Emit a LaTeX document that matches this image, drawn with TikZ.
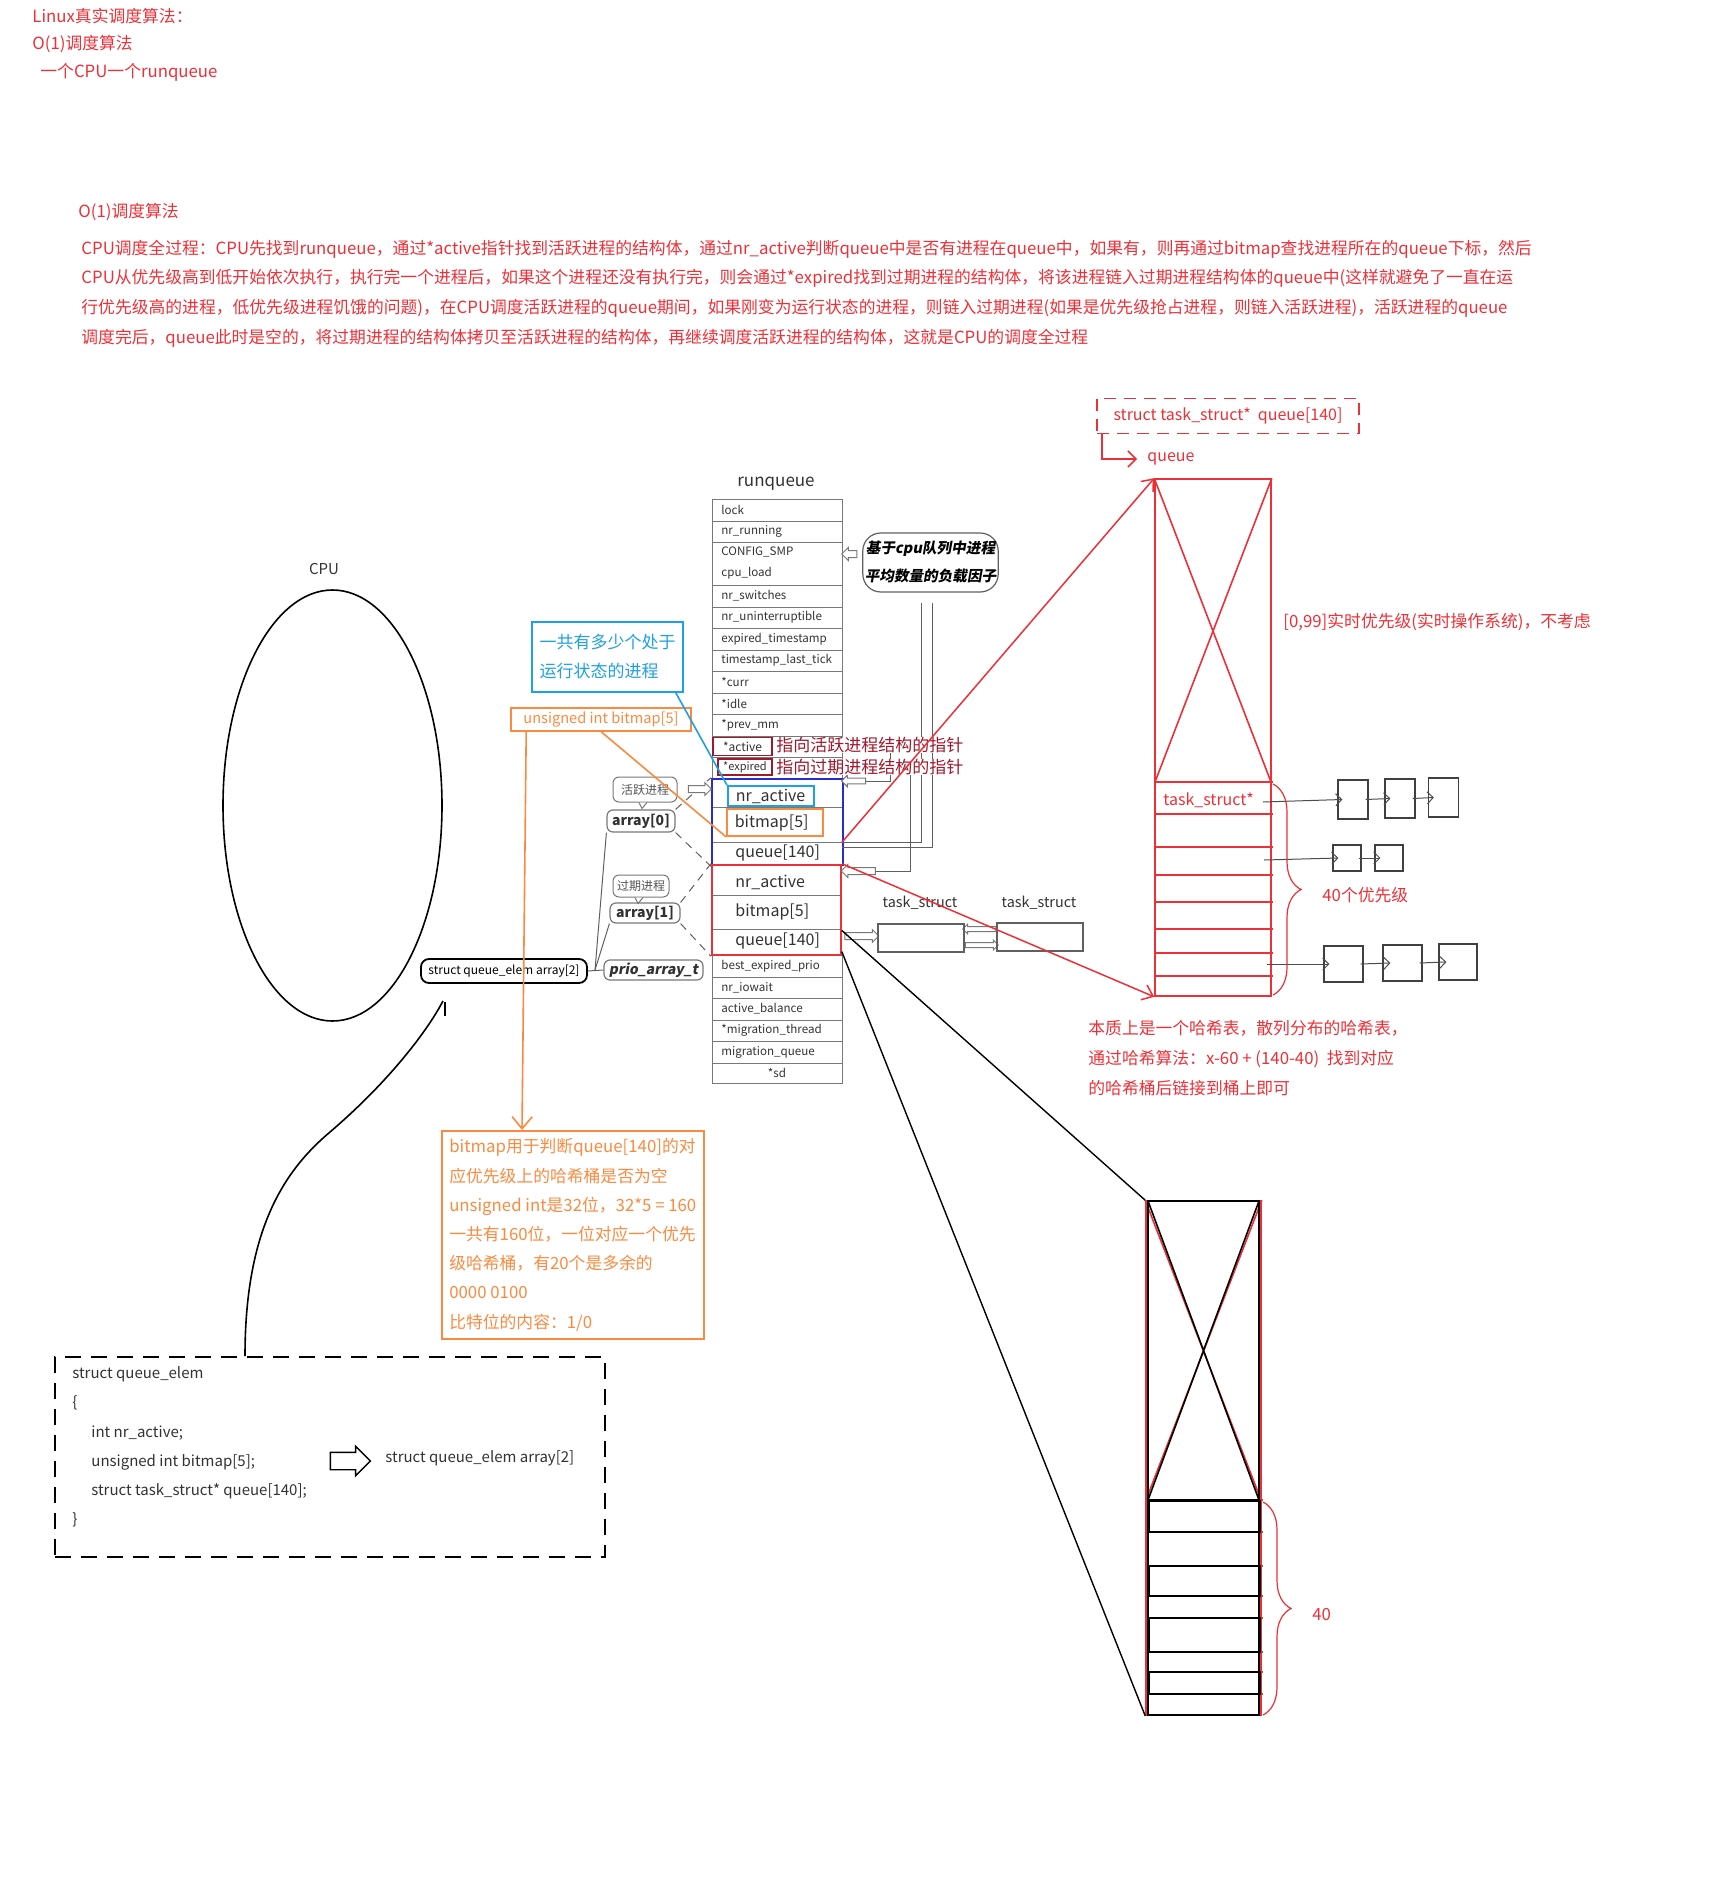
\documentclass[tikz,border=0pt]{standalone}
\usepackage{fontspec}
\setmainfont{Noto Sans CJK SC}
\newfontfamily\slantfont[FakeSlant=0.18]{Noto Sans CJK SC}
\usetikzlibrary{shapes.geometric, shapes.arrows, arrows.meta, positioning, calc, decorations.pathreplacing}

\definecolor{mred}{RGB}{236,48,56}
\definecolor{dred}{RGB}{160,24,44}
\definecolor{mblue}{RGB}{40,44,200}
\definecolor{mcyan}{RGB}{30,160,228}
\definecolor{morange}{RGB}{250,138,64}
\definecolor{tgray}{RGB}{120,120,120}
\definecolor{ttext}{RGB}{50,50,50}

\tikzset{
  rtext/.style={text=mred, font=\fontsize{8.4}{10}\selectfont, anchor=west, inner sep=0pt},
  fld/.style={text=ttext, font=\fontsize{5.8}{10.5}\selectfont, anchor=west, inner sep=0pt, align=left},
  cell/.style={draw=tgray, line width=0.5pt},
  bigfld/.style={text=ttext, font=\fontsize{8}{9}\selectfont, anchor=west, inner xsep=0pt, inner ysep=1pt, text width=53pt, align=left},
  hollow/.style={single arrow, draw=tgray, fill=white, line width=0.5pt, single arrow head indent=0pt, inner sep=1.5pt, single arrow head extend=1.5pt},
  conn/.style={draw=tgray!80!black, line width=0.5pt},
  tag/.style={draw=tgray, rounded corners=3pt, fill=white, line width=0.5pt, inner sep=1pt, font=\fontsize{6}{7}\selectfont, text=tgray!70!black},
  arrtag/.style={draw=tgray, rounded corners=3pt, line width=0.6pt, inner sep=1pt, font=\bfseries\fontsize{7}{8}\selectfont, text=ttext},
  rarr/.style={draw=mred, line width=0.75pt, -{Straight Barb[length=5pt,width=8pt]}},
  lbox/.style={draw=black!75, line width=0.6pt, inner sep=0pt},
  lnk/.style={draw=black!70, line width=0.5pt, -{Straight Barb[length=3pt,width=6pt]}},
  rbrace/.style={draw=mred, line width=0.6pt, decorate, decoration={brace, amplitude=14pt}},
  code/.style={font=\fontsize{7.5}{9}\selectfont, anchor=west, inner sep=0pt, text=ttext}
}

\begin{document}
\begin{tikzpicture}[x=0.5pt, y=-0.5pt]
\useasboundingbox (0,0) rectangle (1732,1877);

% titles and paragraph
\node[rtext] (t1) at (32,16) {Linux真实调度算法：};
\node[rtext] (t2) at (32,44) {O(1)调度算法};
\node[rtext] (t3) at (40,72) {一个CPU一个runqueue};
\node[rtext] (sec) at (78,212) {O(1)调度算法};
\node[rtext] (p1) at (81,249) {CPU调度全过程：CPU先找到runqueue，通过*active指针找到活跃进程的结构体，通过nr\_active判断queue中是否有进程在queue中，如果有，则再通过bitmap查找进程所在的queue下标，然后};
\node[rtext] (p2) at (81,278) {CPU从优先级高到低开始依次执行，执行完一个进程后，如果这个进程还没有执行完，则会通过*expired找到过期进程的结构体，将该进程链入过期进程结构体的queue中(这样就避免了一直在运};
\node[rtext] (p3) at (81,308) {行优先级高的进程，低优先级进程饥饿的问题)，在CPU调度活跃进程的queue期间，如果刚变为运行状态的进程，则链入过期进程(如果是优先级抢占进程，则链入活跃进程)，活跃进程的queue};
\node[rtext] (p4) at (81,338) {调度完后，queue此时是空的，将过期进程的结构体拷贝至活跃进程的结构体，再继续调度活跃进程的结构体，这就是CPU的调度全过程};

% cpu
\node[ellipse, draw, line width=0.8pt, minimum width=109.5pt, minimum height=215.5pt, inner sep=0pt] (cpu) at (332.5,805.5) {};
\node[font=\fontsize{7.5}{9}\selectfont, text=ttext] (cpulbl) at (324,569) {CPU};

% runqueue table
\node[font=\fontsize{8.5}{10}\selectfont, text=ttext] (rqlbl) at (776,484) {runqueue};
\foreach \t/\b/\lbl [count=\i] in {499/521/lock, 521/542/nr\_running, 542/585/{CONFIG\_SMP\\cpu\_load}, 585/607/nr\_switches, 607/628/nr\_uninterruptible, 628/650/expired\_timestamp, 650/671/timestamp\_last\_tick, 671/693/*curr, 693/714/*idle, 714/736/*prev\_mm, 736/757/{}, 757/779/{}, 955/977/best\_expired\_prio, 977/998/nr\_iowait, 998/1020/active\_balance, 1020/1041/*migration\_thread, 1041/1063/migration\_queue}
{
  \draw[cell] (712,\t) rectangle (842,\b);
  \node[fld] (rq\i) at (721,{(\t+\b)/2}) {\lbl};
}
\draw[cell] (712,1063) rectangle (842,1083);
\node[fld, anchor=center] (rqsd) at (777,1073) {*sd};

\node[draw=dred, line width=0.7pt, minimum width=29.5pt, minimum height=9pt, inner sep=0pt, font=\fontsize{6}{7}\selectfont, text=ttext] (act) at (742.5,746.5) {*active};
\node[draw=dred, line width=0.7pt, minimum width=27pt, minimum height=8pt, inner sep=0pt, font=\fontsize{5.5}{6}\selectfont, text=ttext] (exp) at (745,767) {*expired};

% active / expired arrays
\draw[cell] (713,807) -- (842,807);
\draw[cell] (713,842) -- (842,842);
\node[draw=mblue, line width=1.2pt, minimum width=65.5pt, minimum height=43pt, inner sep=0pt] (actbox) at (777.5,822) {};
\node[draw=mcyan, line width=0.8pt, anchor=west, text width=35pt, inner xsep=4pt, inner ysep=0pt, minimum height=10pt, font=\fontsize{8}{9}\selectfont, text=ttext] (an) at (727,796) {nr\_active};
\node[draw=morange, line width=0.8pt, anchor=west, text width=40pt, inner xsep=4pt, inner ysep=0pt, minimum height=13.5pt, font=\fontsize{8}{9}\selectfont, text=ttext] (ab) at (726,822.5) {bitmap[5]};
\node[bigfld] (aq) at (735,853) {queue[140]};

\draw[cell] (713,895) -- (841,895);
\draw[cell] (713,929) -- (841,929);
\node[draw=mred, line width=1.2pt, minimum width=64.5pt, minimum height=45pt, inner sep=0pt] (expbox) at (776.5,910) {};
\node[bigfld] (en) at (735,882) {nr\_active};
\node[bigfld] (eb) at (735,912) {bitmap[5]};
\node[bigfld] (eq) at (735,941) {queue[140]};

% left side tags
\node[tag, minimum width=32pt, minimum height=12.5pt] (b1) at (645,789.5) {活跃进程};
\draw[draw=tgray, fill=white, line width=0.5pt] ([xshift=-3pt]b1.south) -- ++(1.5pt,-3pt) -- ([xshift=1pt]b1.south);
\node[tag, minimum width=28pt, minimum height=11pt] (b2) at (641,886) {过期进程};
\draw[draw=tgray, fill=white, line width=0.5pt] ([xshift=-3pt]b2.south) -- ++(1.5pt,-3pt) -- ([xshift=1pt]b2.south);
\node[arrtag, minimum width=34pt, minimum height=11pt] (a0) at (641,821) {array[0]};
\node[arrtag, minimum width=35pt, minimum height=10pt] (a1) at (645,913) {array[1]};
\node[arrtag, minimum width=49.5pt, minimum height=10pt, font=\slantfont\bfseries\fontsize{7}{8}\selectfont] (pat) at (653.5,970) {prio\_array\_t};
\node[draw=black, line width=0.9pt, rounded corners=4pt, minimum width=83pt, minimum height=12pt, inner sep=1pt, font=\fontsize{6}{7}\selectfont] (sqa) at (504,971) {struct queue\_elem array[2]};

\coordinate (jn) at (595,970);
\draw[conn] (sqa.east) -- (pat.west);
\draw[conn] (jn) -- (a0.south west);
\draw[conn] (jn) -- (a1.south west);
\draw[conn, dash pattern=on 4pt off 3pt] (a0.north east) -- (actbox.north west);
\draw[conn, dash pattern=on 4pt off 3pt] (a0.south east) -- (actbox.south west);
\draw[conn, dash pattern=on 4pt off 3pt] (a1.north east) -- (expbox.north west);
\draw[conn, dash pattern=on 4pt off 3pt] (a1.south east) -- (expbox.south west);

% callouts
\node[draw=mcyan, line width=0.8pt, minimum width=75.5pt, minimum height=35pt, align=left, text=mcyan, font=\fontsize{8.5}{14.5}\selectfont, inner sep=2pt] (bcall) at (607.5,657) {一共有多少个处于\\运行状态的进程};
\node[draw=morange, line width=0.8pt, minimum width=90pt, minimum height=11.5pt, inner sep=0.5pt, text=morange, font=\fontsize{7.3}{8}\selectfont] (bmlbl) at (601,719.5) {unsigned int bitmap[5]};
\node[draw=morange, line width=0.8pt, anchor=north west, minimum width=131pt, minimum height=104pt, align=left, inner sep=1pt, text=morange, font=\fontsize{8.4}{14.6}\selectfont] (bexp) at (441,1130) {bitmap用于判断queue[140]的对\\应优先级上的哈希桶是否为空\\unsigned int是32位，32*5 = 160\\一共有160位，一位对应一个优先\\级哈希桶，有20个是多余的\\0000 0100\\比特位的内容：1/0};
\draw[mcyan, line width=0.8pt] ([xshift=-4pt]bcall.south east) -- (an.north west);
\draw[morange, line width=0.8pt] ([xshift=45.5pt]bmlbl.south west) -- (ab.south west);
\draw[morange, line width=0.8pt, -{Straight Barb[length=6pt,width=10pt]}] ([xshift=8pt]bmlbl.south west) -- ([xshift=40.5pt]bexp.north west);

\node[draw=tgray!80!black, rounded corners=9pt, line width=0.6pt, minimum width=67.5pt, minimum height=29.5pt, align=center, inner sep=1pt, font=\slantfont\bfseries\fontsize{7.3}{14}\selectfont] (cl) at (930.5,562.5) {基于cpu队列中进程\\平均数量的负载因子};

% hollow arrows
\node[hollow, minimum height=11.5pt] (h1) at (698,789) {};
\node[hollow, minimum height=7.5pt, shape border rotate=180] (h2) at (851,554) {};
\node[hollow, minimum height=12pt, shape border rotate=180, inner sep=1.2pt] (h3) at (855,781) {};
\node[hollow, minimum height=17pt, shape border rotate=180] (h4) at (860,871) {};
\node[hollow, minimum height=17pt] (h5) at (860,936) {};
\node[hollow, minimum height=16.5pt, shape border rotate=180, inner sep=1pt, single arrow head extend=1.2pt] (h6) at (980.5,929) {};
\node[hollow, minimum height=16.5pt, inner sep=1pt, single arrow head extend=1.2pt] (h7) at (980.5,945) {};
\node[hollow, minimum height=20pt, inner sep=4pt, single arrow head extend=3pt, draw=black, line width=0.7pt] (h8) at (346,1461) {};

% pointer connectors
\coordinate (cl1) at (921,603);
\coordinate (cl2) at (932,603);
\coordinate (rq1) at (842,842);
\coordinate (rq2) at (842,847);
\draw[conn] (h3.tail) -| (890,752);
\draw[conn] (h4.tail) -| (910,772);
\draw[conn] (cl1) |- (rq1);
\draw[conn] (cl2) |- (rq2);
\node[text=dred, font=\fontsize{8.5}{10}\selectfont, anchor=west, inner sep=0pt, fill=white] (actlbl) at (776,745) {指向活跃进程结构的指针};
\node[text=dred, font=\fontsize{8.5}{10}\selectfont, anchor=west, inner sep=0pt, fill=white] (explbl) at (776,767) {指向过期进程结构的指针};

% task_struct chain
\node[lbox, draw=tgray!80!black, minimum width=43pt, minimum height=14pt] (ts1) at (921,938) {};
\node[lbox, draw=tgray!80!black, minimum width=43pt, minimum height=14pt] (ts2) at (1040,937) {};
\node[font=\fontsize{7.2}{8}\selectfont, text=ttext] (tl1) at (920,903) {task\_struct};
\node[font=\fontsize{7.2}{8}\selectfont, text=ttext] (tl2) at (1039,903) {task\_struct};

% queue[140] table
\node[draw=mred, line width=0.8pt, minimum width=58pt, minimum height=258.5pt, inner sep=0pt] (qtab) at (1213,737.5) {};
\draw[mred, line width=0.8pt] (qtab.north west) -- (1271,782) (qtab.north east) -- (1155,782);
\foreach \y in {782,814,847,875,902,929,953,976}
  \draw[mred, line width=0.8pt] (1155,\y) -- (1273,\y);
\node[text=mred, font=\fontsize{8}{9}\selectfont, anchor=west, inner sep=0pt] (tsp) at (1163,800) {task\_struct*};

\node[draw=mred, line width=0.9pt, dash pattern=on 6pt off 4pt, minimum width=131pt, minimum height=17.5pt, text=mred, font=\fontsize{8}{9}\selectfont] (tsq) at (1228,416) {struct task\_struct*\ \ queue[140]};
\node[text=mred, font=\fontsize{8}{9}\selectfont, anchor=west, inner sep=0pt] (qlbl) at (1147,459) {queue};
\draw[rarr, -{Straight Barb[length=4pt,width=8pt]}] ([xshift=3pt]tsq.south west) |- ([xshift=-5pt]qlbl.west);

\draw[rarr] (aq.north east) -- (qtab.north west);
\draw[rarr] (expbox.north east) -- (qtab.south west);

% linked lists
\coordinate (s1) at (1263,802);
\coordinate (s2) at (1264,860);
\coordinate (s3) at (1267,964);
\node[lbox, minimum width=15pt, minimum height=19.5pt] (l11) at (1353,799.5) {};
\node[lbox, minimum width=15pt, minimum height=19.5pt] (l12) at (1400,798.5) {};
\node[lbox, minimum width=15pt, minimum height=19.5pt] (l13) at (1443.5,797.5) {};
\node[lbox, minimum width=14pt, minimum height=13pt] (l21) at (1347,858) {};
\node[lbox, minimum width=14pt, minimum height=13pt] (l22) at (1389,858) {};
\node[lbox, minimum width=19.5pt, minimum height=18pt] (l31) at (1343.5,964) {};
\node[lbox, minimum width=19.5pt, minimum height=18pt] (l32) at (1402.5,963) {};
\node[lbox, minimum width=19pt, minimum height=18pt] (l33) at (1458,962) {};
\draw[lnk] (s1) -- ([xshift=2.5pt]l11.west);
\draw[lnk] ([xshift=-1.5pt]l11.east) -- ([xshift=3pt]l12.west);
\draw[lnk] ([xshift=-1.5pt]l12.east) -- ([xshift=3pt]l13.west);
\draw[lnk] (s2) -- ([xshift=3pt]l21.west);
\draw[lnk] ([xshift=-1.5pt]l21.east) -- ([xshift=3pt]l22.west);
\draw[lnk] (s3) -- ([xshift=3pt]l31.west);
\draw[lnk] ([xshift=-1.5pt]l31.east) -- ([xshift=4pt]l32.west);
\draw[lnk] ([xshift=-1.5pt]l32.east) -- ([xshift=4pt]l33.west);

\draw[rbrace] (1273,784) -- (1273,995);
\node[text=mred, font=\fontsize{8.4}{10}\selectfont, anchor=west, inner sep=0pt] (pr40) at (1322,895) {40个优先级};
\node[text=mred, font=\fontsize{8.4}{10}\selectfont, anchor=west, inner sep=0pt] (rt99) at (1283,622) {[0,99]实时优先级(实时操作系统)，不考虑};
\node[text=mred, font=\fontsize{8.4}{15}\selectfont, anchor=north west, align=left, inner sep=0pt] (hash) at (1088,1020) {本质上是一个哈希表，散列分布的哈希表，\\通过哈希算法：x-60 + (140-40)\ \ 找到对应\\的哈希桶后链接到桶上即可};

% copied table
\node[draw=mred, line width=0.8pt, minimum width=57.5pt, minimum height=257pt, inner sep=0pt] (qtab2) at (1203.5,1458) {};
\draw[mred, line width=0.8pt] (qtab2.north west) -- (1261,1500) (qtab2.north east) -- (1146,1500);
\foreach \y in {1500,1532,1566,1596,1618,1652,1672,1694}
  \draw[mred, line width=0.8pt] (1146,\y) -- (1263,\y);
\draw[black, line width=0.8pt] (1148,1201) rectangle (1259,1715);
\draw[black, line width=0.8pt] (1148,1201) -- (1259,1500) (1259,1201) -- (1148,1500);
\foreach \ta/\tb in {1501/1532,1566/1596,1618/1652,1672/1694}
  \draw[black, line width=1pt] (1149,\ta) rectangle (1260,\tb);
\draw[black, line width=0.7pt] (1148,1500) -- (1259,1500);
\draw[black, line width=0.7pt] (eq.north east) -- (qtab2.north west);
\draw[black, line width=0.7pt] (eq.south east) -- (qtab2.south west);
\draw[rbrace] (1263,1502) -- (1263,1715);
\node[text=mred, font=\fontsize{8.4}{10}\selectfont, anchor=west, inner sep=0pt] (n40) at (1312,1614) {40};

% struct queue_elem box
\node[draw=black, line width=0.8pt, dash pattern=on 8pt off 5pt, minimum width=275pt, minimum height=100pt, anchor=north west, inner sep=0pt] (qebox) at (54,1356) {};
\node[code] (c1) at (72,1374) {struct queue\_elem};
\node[code] (c2) at (72,1403) {\{};
\node[code] (c3) at (91,1433) {int nr\_active;};
\node[code] (c4) at (91,1462) {unsigned int bitmap[5];};
\node[code] (c5) at (91,1491) {struct task\_struct* queue[140];};
\node[code] (c6) at (72,1520) {\}};
\node[code] (c7) at (385,1458) {struct queue\_elem array[2]};

\coordinate (cvend) at (443,1001);
\draw[line width=0.8pt] ([xshift=95.5pt]qebox.north west) .. controls (245,1228) and (285,1170) .. (330,1132) .. controls (385,1085) and (425,1035) .. (cvend);
\draw[line width=0.8pt] (445,1002) -- (445,1016);

\end{tikzpicture}
\end{document}
